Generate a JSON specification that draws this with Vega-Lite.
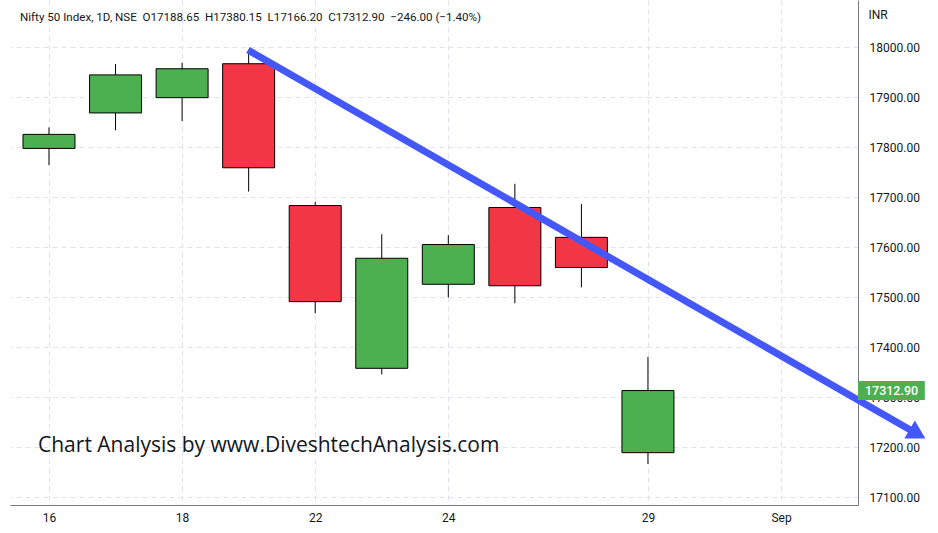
{
  "$schema": "https://vega.github.io/schema/vega-lite/v6.json",
  "width": 848,
  "height": 505,
  "autosize": {"type": "none"},
  "padding": {"left": 10, "top": 0, "right": 80, "bottom": 28},
  "background": "white",
  "config": {
    "view": {"stroke": null},
    "font": "Roboto",
    "axis": {"labelFont": "Roboto", "labelFontSize": 12, "labelColor": "#131722", "domainColor": "#787b86", "gridColor": "#e0e3eb", "gridDash": [5, 4], "ticks": false, "tickSize": 0}
  },
  "title": {
    "text": "Nifty 50 Index, 1D, NSE \u00a0O17188.65 \u00a0H17380.15 \u00a0L17166.20 \u00a0C17312.90 \u00a0−246.00 (−1.40%)",
    "anchor": "start",
    "frame": "group",
    "font": "Roboto",
    "fontSize": 11.6,
    "fontWeight": "normal",
    "color": "#131722",
    "baseline": "alphabetic",
    "offset": -18,
    "dx": 10,
    "dy": 15
  },
  "data": {
    "values": [
      {"i": 0, "date": "2022-08-16", "open": 17797.2, "high": 17839.1, "low": 17764.05, "close": 17825.25},
      {"i": 1, "date": "2022-08-17", "open": 17868.15, "high": 17965.95, "low": 17833.35, "close": 17944.25},
      {"i": 2, "date": "2022-08-18", "open": 17898.65, "high": 17968.45, "low": 17852.05, "close": 17956.5},
      {"i": 3, "date": "2022-08-19", "open": 17966.55, "high": 17992.2, "low": 17710.75, "close": 17758.45},
      {"i": 4, "date": "2022-08-22", "open": 17682.9, "high": 17690.05, "low": 17467.35, "close": 17490.7},
      {"i": 5, "date": "2022-08-23", "open": 17357.35, "high": 17625.55, "low": 17345.2, "close": 17577.5},
      {"i": 6, "date": "2022-08-24", "open": 17525.45, "high": 17623.65, "low": 17499.25, "close": 17604.95},
      {"i": 7, "date": "2022-08-25", "open": 17679.0, "high": 17726.5, "low": 17487.45, "close": 17522.45},
      {"i": 8, "date": "2022-08-26", "open": 17619.3, "high": 17685.85, "low": 17519.35, "close": 17558.9},
      {"i": 9, "date": "2022-08-29", "open": 17188.65, "high": 17380.15, "low": 17166.2, "close": 17312.9}
    ]
  },
  "layer": [
    {
      "mark": {"type": "rule", "color": "#000000", "strokeWidth": 1},
      "encoding": {
        "x": {
          "field": "i", "type": "quantitative",
          "scale": {"domain": [-0.586, 12.156], "nice": false, "zero": false, "padding": 0},
          "axis": {
            "title": null, "orient": "bottom", "values": [0, 2, 4, 6, 9, 11],
            "labelExpr": "datum.value == 0 ? '16' : datum.value == 2 ? '18' : datum.value == 4 ? '22' : datum.value == 6 ? '24' : datum.value == 9 ? '29' : 'Sep'",
            "labelPadding": 7, "grid": true, "zindex": 0
          }
        },
        "y": {
          "field": "low", "type": "quantitative",
          "scale": {"domain": [17084, 18094], "nice": false, "zero": false},
          "axis": {
            "orient": "right", "values": [17100, 17200, 17300, 17400, 17500, 17600, 17700, 17800, 17900, 18000],
            "format": ".2f", "labelPadding": 11, "grid": true, "zindex": 0,
            "title": "INR", "titleAngle": 0, "titleAlign": "left", "titleBaseline": "middle",
            "titleX": 10, "titleY": 14, "titleFont": "Roboto", "titleFontSize": 12, "titleFontWeight": "normal", "titleColor": "#131722"
          }
        },
        "y2": {"field": "high"}
      }
    },
    {
      "mark": {"type": "bar", "size": 52, "stroke": "#000000", "strokeWidth": 1},
      "encoding": {
        "x": {"field": "i", "type": "quantitative"},
        "y": {"field": "open", "type": "quantitative"},
        "y2": {"field": "close"},
        "fill": {
          "condition": {"test": "datum.close >= datum.open", "value": "#4caf50"},
          "value": "#f23645"
        }
      }
    },
    {
      "data": {"values": [{"label": "Chart Analysis by www.DiveshtechAnalysis.com"}]},
      "mark": {"type": "text", "align": "left", "baseline": "alphabetic", "font": "Open Sans", "fontSize": 21, "color": "#131722"},
      "encoding": {
        "x": {"datum": -0.165, "type": "quantitative"},
        "y": {"datum": 17190, "type": "quantitative"},
        "text": {"field": "label"}
      }
    },
    {
      "data": {"values": [{"name": "trend"}]},
      "mark": {"type": "rule", "color": "#4458fa", "strokeWidth": 7, "strokeCap": "butt"},
      "encoding": {
        "x": {"datum": 2.99, "type": "quantitative"},
        "y": {"datum": 17994, "type": "quantitative"},
        "x2": {"datum": 12.97},
        "y2": {"datum": 17232}
      }
    },
    {
      "data": {"values": [{"name": "trend"}]},
      "mark": {"type": "point", "shape": "triangle-right", "filled": true, "opacity": 1, "color": "#4458fa", "size": 440, "angle": 30},
      "encoding": {
        "x": {"datum": 13.05, "type": "quantitative"},
        "y": {"datum": 17226, "type": "quantitative"}
      }
    },
    {
      "data": {"values": [{"name": "last"}]},
      "mark": {"type": "rect", "color": "#4caf50"},
      "encoding": {
        "x": {"datum": 12.156, "type": "quantitative"},
        "x2": {"datum": 13.16},
        "y": {"datum": 17332, "type": "quantitative"},
        "y2": {"datum": 17294}
      }
    },
    {
      "data": {"values": [{"price": "17312.90"}]},
      "mark": {"type": "text", "align": "center", "baseline": "middle", "font": "Roboto", "fontSize": 12.5, "fontWeight": 500, "color": "#ffffff"},
      "encoding": {
        "x": {"datum": 12.66, "type": "quantitative"},
        "y": {"datum": 17312.9, "type": "quantitative"},
        "text": {"field": "price"}
      }
    }
  ]
}
